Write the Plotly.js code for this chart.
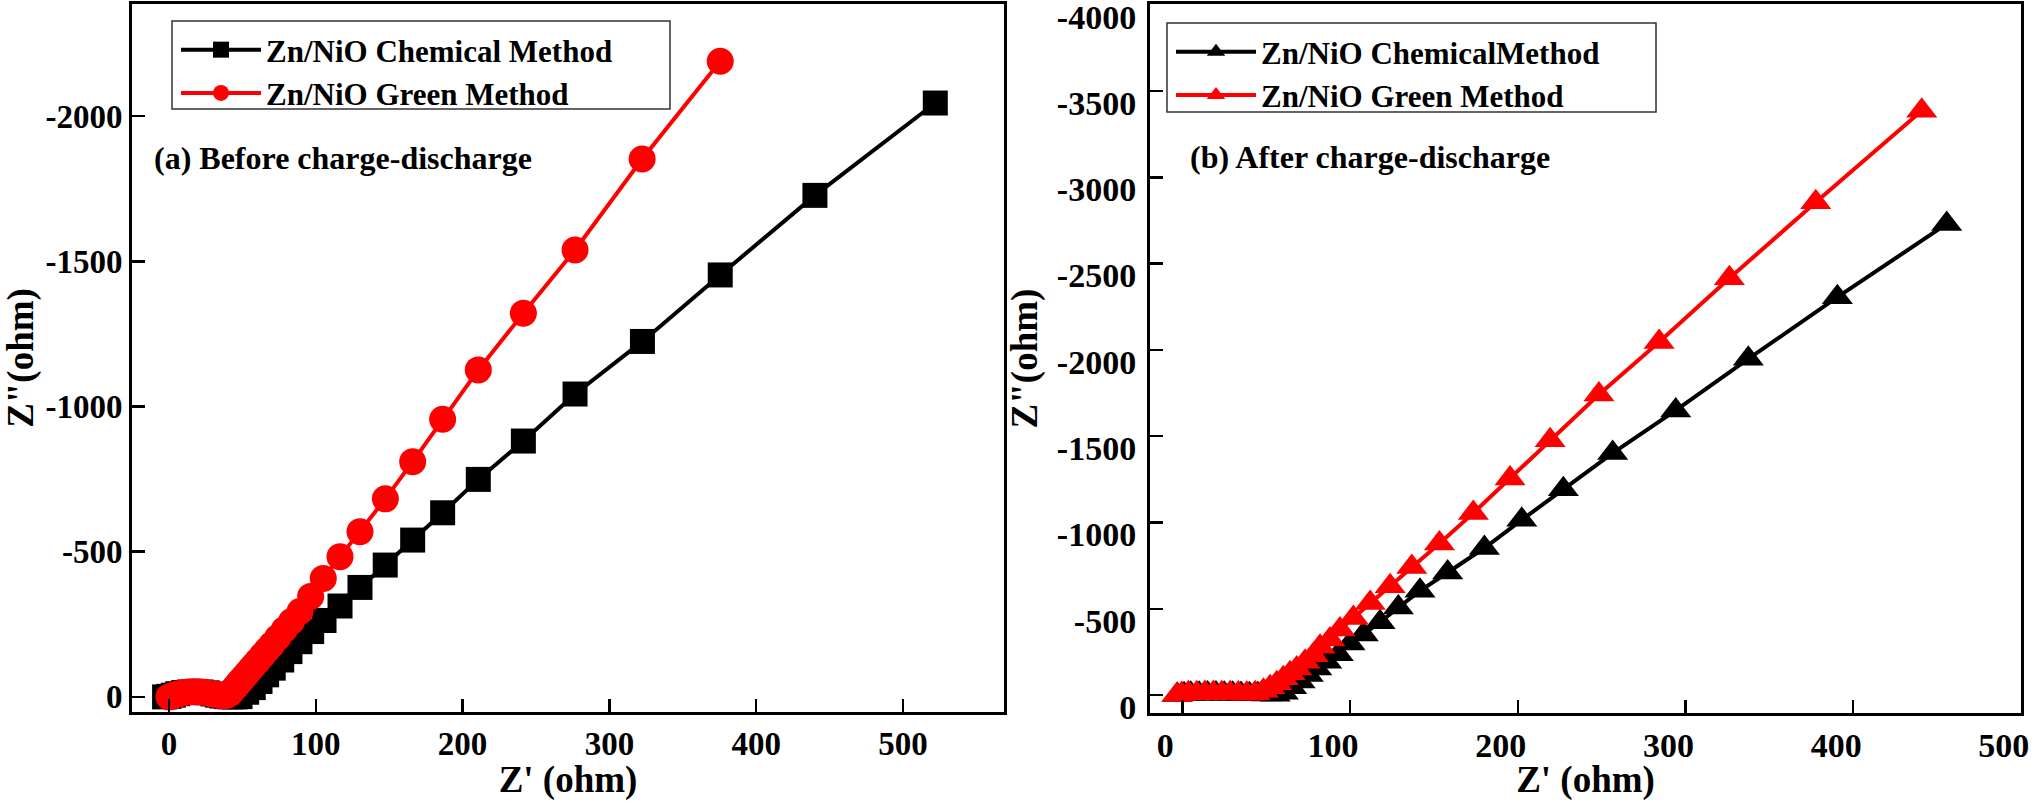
<!DOCTYPE html>
<html>
<head>
<meta charset="utf-8">
<script src="https://cdn.plot.ly/plotly-3.0.1.min.js"></script>
<style>html,body{margin:0;padding:0;background:#fff;}#chart{width:2032px;height:801px;}</style>
</head>
<body>
<div id="chart"></div>
<script>
// ---------- Panel (a): Before charge-discharge ----------
const aChemX = [-3, 0, 3, 6, 10, 14, 18, 22, 26, 30, 33, 36, 39, 42, 45, 48.4, 52.9, 57.4, 62, 66.5, 71, 76.8, 82.4, 89.2, 97.2, 105.6, 116.5, 130.1, 147.3, 166, 186.4, 210.7, 241.4, 276.6, 322.5, 375.5, 440, 522];
const aChemY = [0, -2, -6, -11, -15, -17, -18, -17, -14, -10, -6, -3, -1, 0, 0, -1, -16, -32, -53, -76, -99, -127, -156, -190, -225, -263, -313, -377, -454, -540, -634, -749, -881, -1043, -1224, -1453, -1727, -2045];
const aGreenX = [0, 2, 4, 7, 10, 13, 16, 19, 22, 25, 28, 31, 34, 37, 39, 41, 42.5, 44, 45.5, 47, 49, 51, 53, 55.5, 58, 60.5, 63.5, 66.5, 70, 74, 78.5, 83.5, 89.2, 96.5, 105.1, 116.5, 130.1, 147.4, 166, 186.4, 210.7, 241.4, 276.6, 322.3, 375.5];
const aGreenY = [0, -3, -7, -11, -15, -17, -18, -18, -17, -15, -12, -9, -6, -4, -5, -10, -18, -27, -36, -45, -57, -68, -80, -95, -110, -124, -142, -160, -180, -204, -231, -260, -294, -346, -408, -483, -569, -682, -810, -956, -1126, -1321, -1539, -1852, -2189];

// ---------- Panel (b): After charge-discharge ----------
const bChemX = [-3, 1, 5, 10, 15, 20, 25, 30, 35, 40, 45, 50, 55.3, 60.2, 65.2, 70.2, 75.1, 80.1, 86.1, 93, 100, 107.9, 117.9, 128.8, 141.7, 158.2, 180.1, 202.4, 227.2, 256.6, 294.2, 337.5, 390.6, 455.8];
const bChemY = [0, -4, -7, -8, -9, -9, -8, -7, -6, -5, -4, -3, -2, -14, -45, -79, -116, -154, -193, -237, -299, -351, -422, -507, -604, -710, -852, -1015, -1192, -1402, -1649, -1948, -2305, -2730];
const bGreenX = [-3.3, -0.4, 3.6, 8.6, 13.5, 18.5, 23.5, 28.5, 33.4, 38.4, 43.4, 48.3, 52.3, 56.3, 60.2, 64.2, 68.2, 73.2, 78.1, 82.1, 88, 94, 102, 112, 123.9, 136.8, 153.3, 173.5, 195.4, 219.3, 248.4, 284.3, 326.2, 377.7, 440.9];
const bGreenY = [0, -6, -10, -11, -12, -12, -11, -10, -9, -8, -11, -25, -45, -68, -97, -126, -154, -193, -231, -280, -322, -380, -447, -534, -631, -742, -878, -1055, -1254, -1476, -1741, -2045, -2415, -2855, -3385];

// ---------- Names and tick labels ----------
const aNames = ['Zn/NiO Chemical Method', 'Zn/NiO Green Method'];
const bNames = ['Zn/NiO ChemicalMethod', 'Zn/NiO Green Method'];
const panelLabels = ['(a) Before charge-discharge', '(b) After charge-discharge'];
const xTitle = "Z' (ohm)";
const yTitle = 'Z"(ohm)';
const xTickVals = [0, 100, 200, 300, 400, 500];
const xTickText = ['0', '100', '200', '300', '400', '500'];
const aYTickVals = [0, -500, -1000, -1500, -2000];
const aYTickText = ['0', '-500', '-1000', '-1500', '-2000'];
const bYTickVals = [0, -500, -1000, -1500, -2000, -2500, -3000, -3500, -4000];
const bYTickText = ['0', '-500', '-1000', '-1500', '-2000', '-2500', '-3000', '-3500', '-4000'];

const FONT = 'Liberation Serif';
const W = 2032, H = 801;
const bold = arr => arr.map(t => '<b>' + t + '</b>');

const traces = [
  {x: aChemX, y: aChemY, name: '<b>' + aNames[0] + '</b>', type: 'scatter', mode: 'lines+markers',
   line: {color: '#000000', width: 4}, marker: {symbol: 'square', size: 25, color: '#000000'},
   xaxis: 'x', yaxis: 'y', legend: 'legend'},
  {x: aGreenX, y: aGreenY, name: '<b>' + aNames[1] + '</b>', type: 'scatter', mode: 'lines+markers',
   line: {color: '#ff0000', width: 4}, marker: {symbol: 'circle', size: 27, color: '#ff0000'},
   xaxis: 'x', yaxis: 'y', legend: 'legend'},
  {x: bChemX, y: bChemY, name: '<b>' + bNames[0] + '</b>', type: 'scatter', mode: 'lines+markers',
   line: {color: '#000000', width: 4}, marker: {symbol: 'triangle-up', size: 27, color: '#000000'},
   xaxis: 'x2', yaxis: 'y2', legend: 'legend2'},
  {x: bGreenX, y: bGreenY, name: '<b>' + bNames[1] + '</b>', type: 'scatter', mode: 'lines+markers',
   line: {color: '#ff0000', width: 4}, marker: {symbol: 'triangle-up', size: 27, color: '#ff0000'},
   xaxis: 'x2', yaxis: 'y2', legend: 'legend2'}
];

const axisCommon = {
  showline: true, mirror: true, linecolor: '#000', linewidth: 3,
  ticks: 'inside', ticklen: 13, tickwidth: 2.5, tickcolor: '#000',
  showgrid: false, zeroline: false, tickmode: 'array', ticklabeloverflow: 'allow'
};
const tickFontA = {family: FONT, size: 33, weight: 700, color: '#000'};
const tickFontB = {family: FONT, size: 34, weight: 700, color: '#000'};
const titleFont = {family: FONT, size: 37, weight: 700, color: '#000'};

function px(v){ return v / W; }
function py(v){ return 1 - v / H; }

const layout = {
  width: W, height: H,
  margin: {l: 0, r: 0, t: 0, b: 0, pad: 0},
  paper_bgcolor: '#fff', plot_bgcolor: '#fff',
  showlegend: true,
  font: {family: FONT, color: '#000'},
  xaxis: Object.assign({}, axisCommon, {
    domain: [px(132), px(1004)], range: [-25.2, 568.8], anchor: 'y',
    tickvals: xTickVals, ticktext: bold(xTickText), tickfont: tickFontA,
    title: {text: '<b>' + xTitle + '</b>', font: titleFont, standoff: 2}
  }),
  yaxis: Object.assign({}, axisCommon, {
    domain: [py(712), py(4)], range: [52, -2386], anchor: 'x',
    tickvals: aYTickVals, ticktext: bold(aYTickText), tickfont: tickFontA,
    title: {text: '<b>' + yTitle + '</b>', font: titleFont, standoff: 8}
  }),
  xaxis2: Object.assign({}, axisCommon, {
    domain: [px(1150), px(2021)], range: [-19.3, 500.1], anchor: 'y2',
    tickvals: xTickVals, ticktext: bold(xTickText), ticklabelshift: -17, tickfont: tickFontB,
    title: {text: '<b>' + xTitle + '</b>', font: titleFont, standoff: 2}
  }),
  yaxis2: Object.assign({}, axisCommon, {
    domain: [py(713), py(4)], range: [104, -4004], anchor: 'x2',
    tickvals: bYTickVals, ticktext: bold(bYTickText), ticklabelshift: -12, ticklabelstandoff: 4,
    tickfont: tickFontB,
    title: {text: '<b>' + yTitle + '</b>', font: titleFont, standoff: 8}
  }),
  legend: {
    x: px(176), y: py(23), xanchor: 'left', yanchor: 'top',
    bgcolor: 'rgba(0,0,0,0)', borderwidth: 0,
    font: {family: FONT, size: 31, color: '#000'},
    itemwidth: 80, tracegroupgap: 0
  },
  legend2: {
    x: px(1171), y: py(25), xanchor: 'left', yanchor: 'top',
    bgcolor: 'rgba(0,0,0,0)', borderwidth: 0,
    font: {family: FONT, size: 31, color: '#000'},
    itemwidth: 80, tracegroupgap: 0
  },
  shapes: [
    {type: 'rect', xref: 'paper', yref: 'paper', x0: px(172), x1: px(670), y0: py(109), y1: py(21),
     line: {color: '#333', width: 1.5}, fillcolor: '#fff', layer: 'above'},
    {type: 'rect', xref: 'paper', yref: 'paper', x0: px(1167), x1: px(1656), y0: py(112), y1: py(23),
     line: {color: '#333', width: 1.5}, fillcolor: '#fff', layer: 'above'}
  ],
  annotations: [
    {xref: 'paper', yref: 'paper', x: px(152), y: py(158), xanchor: 'left', yanchor: 'middle',
     text: '<b>' + panelLabels[0] + '</b>', showarrow: false, font: {family: FONT, size: 32, color: '#000'}},
    {xref: 'paper', yref: 'paper', x: px(1188), y: py(157), xanchor: 'left', yanchor: 'middle',
     text: '<b>' + panelLabels[1] + '</b>', showarrow: false, font: {family: FONT, size: 32, color: '#000'}}
  ]
};

Plotly.newPlot('chart', traces, layout, {displayModeBar: false, staticPlot: true});
</script>
</body>
</html>
